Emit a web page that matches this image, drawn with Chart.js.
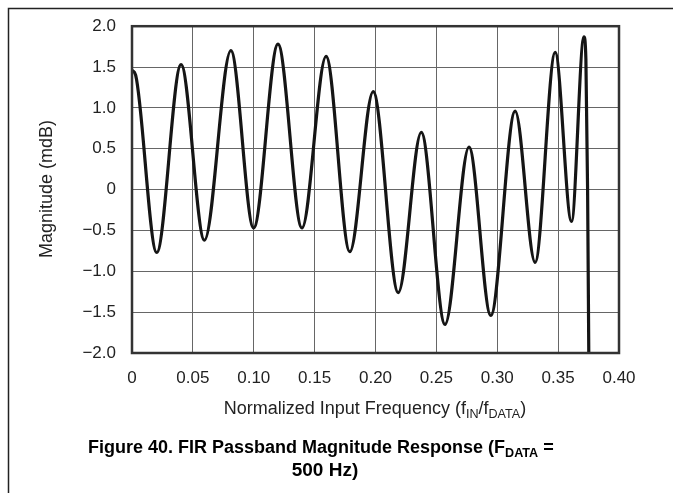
<!DOCTYPE html>
<html lang="en">
<head>
    <script src="https://cdn.jsdelivr.net/npm/chart.js@4.4.1/dist/chart.umd.min.js"></script>
    <meta charset="UTF-8">
    <title>FIR Passband Magnitude Response</title>
    <style>
        body { margin: 0; background: #fff; }
        #wrap { width: 673px; height: 493px; }
    </style>
</head>
<body>
<div id="wrap">
    <canvas id="myChart" width="673" height="493"></canvas>
</div>

<script>
    // valeurs (extremums de la courbe)
    let frequences = [0, 0.003, 0.0203, 0.0403, 0.0595, 0.0812, 0.0999, 0.1199, 0.1396, 0.1594,
        0.1789, 0.1981, 0.2187, 0.2376, 0.2571, 0.2768, 0.2947, 0.3147, 0.3311, 0.3476,
        0.361, 0.3712, 0.3728, 0.3742, 0.3752];
    let magnitudes = [1.46, 1.40, -0.77, 1.53, -0.62, 1.70, -0.47, 1.78, -0.47, 1.63,
        -0.76, 1.20, -1.26, 0.70, -1.65, 0.52, -1.54, 0.96, -0.89, 1.68,
        -0.39, 1.87, 1.60, 0.0, -2.05];

    let xTicks = [0, 0.05, 0.10, 0.15, 0.20, 0.25, 0.30, 0.35, 0.40];
    let yTicks = [-2.0, -1.5, -1.0, -0.5, 0, 0.5, 1.0, 1.5, 2.0];

    let police = "'Liberation Sans', Arial, Helvetica, sans-serif";

    let points = frequences.map((f, i) => {
        return {x: f, y: magnitudes[i]};
    });

    // dessine un texte avec des indices (subscripts)
    function texteIndices(ctx, morceaux, x, y, taille, gras, centre) {
        let poids = gras ? 'bold ' : '';
        let largeur = 0;
        morceaux.forEach(m => {
            ctx.font = poids + (m.sub ? taille * 0.7 : taille) + 'px ' + police;
            largeur += ctx.measureText(m.t).width;
        });
        let cx = centre ? x - largeur / 2 : x;
        ctx.textBaseline = 'middle';
        ctx.textAlign = 'left';
        morceaux.forEach(m => {
            ctx.font = poids + (m.sub ? taille * 0.7 : taille) + 'px ' + police;
            ctx.fillText(m.t, cx, m.sub ? y + taille * 0.3 : y);
            cx += ctx.measureText(m.t).width;
        });
    }

    let cadre = {
        id: 'cadre',
        beforeDraw(chart) {
            let ctx = chart.ctx;
            ctx.save();
            ctx.fillStyle = '#fff';
            ctx.fillRect(0, 0, chart.width, chart.height);
            ctx.strokeStyle = '#222';
            ctx.lineWidth = 1.5;
            ctx.beginPath();
            ctx.moveTo(8.5, chart.height);
            ctx.lineTo(8.5, 8.5);
            ctx.lineTo(chart.width, 8.5);
            ctx.stroke();
            ctx.restore();
        },
        afterDatasetsDraw(chart) {
            let a = chart.chartArea;
            let ctx = chart.ctx;
            ctx.save();
            ctx.strokeStyle = '#333';
            ctx.lineWidth = 2.5;
            ctx.strokeRect(a.left, a.top, a.right - a.left, a.bottom - a.top);
            ctx.restore();
        },
        afterDraw(chart) {
            let ctx = chart.ctx;
            ctx.save();
            ctx.fillStyle = '#222';
            // titre axe Y
            ctx.translate(47, 189);
            ctx.rotate(-Math.PI / 2);
            ctx.font = '18px ' + police;
            ctx.textAlign = 'center';
            ctx.textBaseline = 'middle';
            ctx.fillText('Magnitude (mdB)', 0, 0);
            ctx.setTransform(1, 0, 0, 1, 0, 0);
            // titre axe X
            texteIndices(ctx, [
                {t: 'Normalized Input Frequency (f'}, {t: 'IN', sub: true},
                {t: '/f'}, {t: 'DATA', sub: true}, {t: ')'}
            ], 375, 409, 18, false, true);
            // titre de la figure
            ctx.fillStyle = '#000';
            texteIndices(ctx, [
                {t: 'Figure 40. FIR Passband Magnitude Response (F'}, {t: 'DATA', sub: true}, {t: ' ='}
            ], 88, 448, 18, true, false);
            texteIndices(ctx, [{t: '500 Hz)'}], 325, 471, 19, true, true);
            ctx.restore();
        }
    };

    function buildChart() {
        let content = document.querySelector('#myChart').getContext('2d');
        let myChart = new Chart(content, {
            type: 'line',
            data: {
                datasets: [{
                    label: 'Magnitude',
                    data: points,
                    borderColor: '#151515',
                    borderWidth: 3.2,
                    pointRadius: 0,
                    fill: false,
                    cubicInterpolationMode: 'monotone'
                }]
            },
            options: {
                responsive: false,
                animation: false,
                layout: {padding: {left: 0, top: 23, right: 54, bottom: 0}},
                plugins: {legend: {display: false}, tooltip: {enabled: false}},
                scales: {
                    x: {
                        type: 'linear',
                        min: 0,
                        max: 0.4,
                        afterFit: scale => { scale.height = 140; },
                        afterBuildTicks: scale => { scale.ticks = xTicks.map(v => ({value: v})); },
                        grid: {color: '#666', lineWidth: 1, drawTicks: false},
                        border: {display: false},
                        ticks: {
                            padding: 15,
                            color: '#222',
                            font: {family: police, size: 17},
                            callback: v => v === 0 ? '0' : v.toFixed(2)
                        }
                    },
                    y: {
                        min: -2,
                        max: 2,
                        afterFit: scale => { scale.width = 132; },
                        afterBuildTicks: scale => { scale.ticks = yTicks.map(v => ({value: v})); },
                        grid: {color: '#666', lineWidth: 1, drawTicks: false},
                        border: {display: false},
                        ticks: {
                            padding: 16,
                            color: '#222',
                            font: {family: police, size: 17},
                            callback: v => v === 0 ? '0' : v.toFixed(1).replace('-', '\u2212')
                        }
                    }
                }
            },
            plugins: [cadre]
        });
        return myChart;
    }

    buildChart();
</script>

</body>
</html>
